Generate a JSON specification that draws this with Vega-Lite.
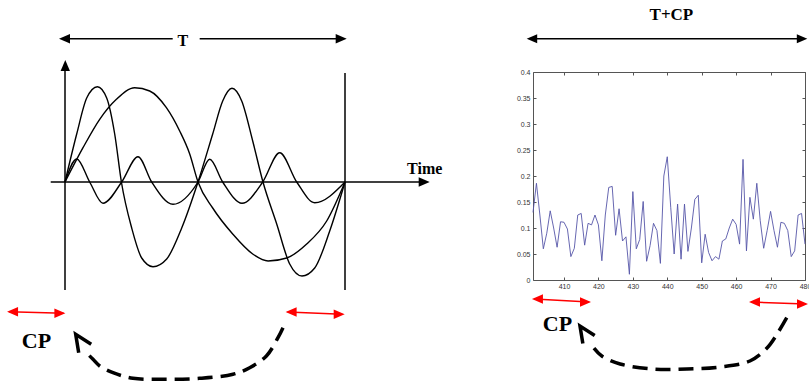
{
  "$schema": "https://vega.github.io/schema/vega-lite/v6.json",
  "padding": {"left": 6, "top": 5, "right": 0, "bottom": 0},
  "bounds": "flush",
  "spacing": 188,
  "config": {"view": {"stroke": null}},
  "datasets": {
    "waves": [
      {"wave": "A", "t": 0, "a": 0}, {"wave": "A", "t": 0.0643, "a": 0.343}, {"wave": "A", "t": 0.1239, "a": 0.627}, {"wave": "A", "t": 0.1836, "a": 0.827}, {"wave": "A", "t": 0.2489, "a": 0.943}, {"wave": "A", "t": 0.3025, "a": 0.91}, {"wave": "A", "t": 0.3621, "a": 0.743}, {"wave": "A", "t": 0.4096, "a": 0.51}, {"wave": "A", "t": 0.4454, "a": 0.28}, {"wave": "A", "t": 0.475, "a": 0}, {"wave": "A", "t": 0.5275, "a": -0.26}, {"wave": "A", "t": 0.5989, "a": -0.52}, {"wave": "A", "t": 0.6704, "a": -0.72}, {"wave": "A", "t": 0.7254, "a": -0.79}, {"wave": "A", "t": 0.7918, "a": -0.76}, {"wave": "A", "t": 0.8632, "a": -0.62}, {"wave": "A", "t": 0.9346, "a": -0.39}, {"wave": "A", "t": 1, "a": 0},
      {"wave": "B", "t": 0, "a": 0}, {"wave": "B", "t": 0.0418, "a": 0.48}, {"wave": "B", "t": 0.0775, "a": 0.84}, {"wave": "B", "t": 0.1157, "a": 0.953}, {"wave": "B", "t": 0.1489, "a": 0.84}, {"wave": "B", "t": 0.1775, "a": 0.48}, {"wave": "B", "t": 0.2014, "a": 0}, {"wave": "B", "t": 0.2382, "a": -0.46}, {"wave": "B", "t": 0.2739, "a": -0.76}, {"wave": "B", "t": 0.3143, "a": -0.847}, {"wave": "B", "t": 0.3632, "a": -0.77}, {"wave": "B", "t": 0.4168, "a": -0.46}, {"wave": "B", "t": 0.475, "a": 0}, {"wave": "B", "t": 0.5275, "a": 0.48}, {"wave": "B", "t": 0.5632, "a": 0.81}, {"wave": "B", "t": 0.5964, "a": 0.937}, {"wave": "B", "t": 0.6311, "a": 0.81}, {"wave": "B", "t": 0.6704, "a": 0.41}, {"wave": "B", "t": 0.7071, "a": 0}, {"wave": "B", "t": 0.7561, "a": -0.42}, {"wave": "B", "t": 0.8025, "a": -0.82}, {"wave": "B", "t": 0.8464, "a": -0.94}, {"wave": "B", "t": 0.8918, "a": -0.86}, {"wave": "B", "t": 0.9454, "a": -0.49}, {"wave": "B", "t": 1, "a": 0},
      {"wave": "C", "t": 0, "a": 0}, {"wave": "C", "t": 0.0418, "a": 0.23}, {"wave": "C", "t": 0.0882, "a": 0}, {"wave": "C", "t": 0.1357, "a": -0.213}, {"wave": "C", "t": 0.2025, "a": 0}, {"wave": "C", "t": 0.2607, "a": 0.253}, {"wave": "C", "t": 0.3096, "a": 0}, {"wave": "C", "t": 0.3857, "a": -0.223}, {"wave": "C", "t": 0.475, "a": 0}, {"wave": "C", "t": 0.5168, "a": 0.227}, {"wave": "C", "t": 0.5632, "a": 0}, {"wave": "C", "t": 0.6321, "a": -0.213}, {"wave": "C", "t": 0.7061, "a": 0}, {"wave": "C", "t": 0.7668, "a": 0.293}, {"wave": "C", "t": 0.8275, "a": 0}, {"wave": "C", "t": 0.8918, "a": -0.207}, {"wave": "C", "t": 1, "a": 0}
    ],
    "leftSegs": [
      {"seg": "yaxis", "t": 0, "a": -1.08}, {"seg": "yaxis", "t": 0, "a": 1.12},
      {"seg": "xaxis", "t": -0.051, "a": 0}, {"seg": "xaxis", "t": 1.27, "a": 0},
      {"seg": "end", "t": 1, "a": 1.09}, {"seg": "end", "t": 1, "a": -1.08},
      {"seg": "T1", "t": -0.01, "a": 1.433}, {"seg": "T1", "t": 0.3846, "a": 1.433},
      {"seg": "T2", "t": 0.481, "a": 1.433}, {"seg": "T2", "t": 0.995, "a": 1.433}
    ],
    "leftHeads": [
      {"t": -0.0214, "a": 1.433, "dir": "left"},
      {"t": 1.0061, "a": 1.433, "dir": "right"},
      {"t": 0.001, "a": 1.22, "dir": "up"},
      {"t": 1.3025, "a": 0, "dir": "right"}
    ],
    "leftCp": [
      {"seg": "L", "t": -0.2, "a": -1.297}, {"seg": "L", "t": -0.005, "a": -1.313},
      {"seg": "R", "t": 0.795, "a": -1.30}, {"seg": "R", "t": 0.99, "a": -1.323}
    ],
    "leftCpHeads": [
      {"t": -0.207, "a": -1.297, "dir": "left"},
      {"t": 0.0014, "a": -1.313, "dir": "right"},
      {"t": 0.788, "a": -1.30, "dir": "left"},
      {"t": 0.9989, "a": -1.323, "dir": "right"}
    ],
    "leftText": [
      {"label": "T", "t": 0.4204, "a": 1.36},
      {"label": "Time", "t": 1.2846, "a": 0.08}
    ],
    "leftCpText": [{"label": "CP", "t": -0.102, "a": -1.657}],
    "leftDash": [
      {"i": 0, "t": 0.7786, "a": -1.457}, {"i": 1, "t": 0.7607, "a": -1.557}, {"i": 2, "t": 0.7193, "a": -1.74}, {"i": 3, "t": 0.6596, "a": -1.857}, {"i": 4, "t": 0.6, "a": -1.923}, {"i": 5, "t": 0.4811, "a": -1.963}, {"i": 6, "t": 0.3621, "a": -1.973}, {"i": 7, "t": 0.2429, "a": -1.963}, {"i": 8, "t": 0.1714, "a": -1.907}, {"i": 9, "t": 0.1239, "a": -1.84}, {"i": 10, "t": 0.1, "a": -1.773}, {"i": 11, "t": 0.0821, "a": -1.723}
    ],
    "leftTip": [{"t": 0.0382, "a": -1.523}],
    "signal": [
      {"x": 401, "y": 0.13}, {"x": 402, "y": 0.186}, {"x": 403, "y": 0.125}, {"x": 404, "y": 0.06}, {"x": 405, "y": 0.09}, {"x": 406, "y": 0.133}, {"x": 407, "y": 0.10}, {"x": 408, "y": 0.063}, {"x": 409, "y": 0.112}, {"x": 410, "y": 0.111},
      {"x": 411, "y": 0.098}, {"x": 412, "y": 0.045}, {"x": 413, "y": 0.061}, {"x": 414, "y": 0.125}, {"x": 415, "y": 0.128}, {"x": 416, "y": 0.067}, {"x": 417, "y": 0.109}, {"x": 418, "y": 0.106}, {"x": 419, "y": 0.125}, {"x": 420, "y": 0.106},
      {"x": 421, "y": 0.037}, {"x": 422, "y": 0.125}, {"x": 423, "y": 0.178}, {"x": 424, "y": 0.18}, {"x": 425, "y": 0.086}, {"x": 426, "y": 0.137}, {"x": 427, "y": 0.075}, {"x": 428, "y": 0.083}, {"x": 429, "y": 0.011}, {"x": 430, "y": 0.17},
      {"x": 431, "y": 0.06}, {"x": 432, "y": 0.078}, {"x": 433, "y": 0.151}, {"x": 434, "y": 0.036}, {"x": 435, "y": 0.066}, {"x": 436, "y": 0.109}, {"x": 437, "y": 0.095}, {"x": 438, "y": 0.032}, {"x": 439, "y": 0.2}, {"x": 440, "y": 0.237},
      {"x": 441, "y": 0.14}, {"x": 442, "y": 0.05}, {"x": 443, "y": 0.146}, {"x": 444, "y": 0.04}, {"x": 445, "y": 0.146}, {"x": 446, "y": 0.055}, {"x": 447, "y": 0.1}, {"x": 448, "y": 0.155}, {"x": 449, "y": 0.163}, {"x": 450, "y": 0.033},
      {"x": 451, "y": 0.088}, {"x": 452, "y": 0.053}, {"x": 453, "y": 0.037}, {"x": 454, "y": 0.045}, {"x": 455, "y": 0.04}, {"x": 456, "y": 0.075}, {"x": 457, "y": 0.079}, {"x": 458, "y": 0.1}, {"x": 459, "y": 0.117}, {"x": 460, "y": 0.107},
      {"x": 461, "y": 0.069}, {"x": 462, "y": 0.232}, {"x": 463, "y": 0.056}, {"x": 464, "y": 0.159}, {"x": 465, "y": 0.117}, {"x": 466, "y": 0.186}, {"x": 467, "y": 0.114}, {"x": 468, "y": 0.061}, {"x": 469, "y": 0.095}, {"x": 470, "y": 0.132},
      {"x": 471, "y": 0.095}, {"x": 472, "y": 0.063}, {"x": 473, "y": 0.111}, {"x": 474, "y": 0.109}, {"x": 475, "y": 0.095}, {"x": 476, "y": 0.045}, {"x": 477, "y": 0.056}, {"x": 478, "y": 0.125}, {"x": 479, "y": 0.128}, {"x": 480, "y": 0.069}
    ],
    "tcp": [{"x": 400.5, "y": 0.464}, {"x": 479.5, "y": 0.464}],
    "tcpHeads": [{"x": 399.17, "y": 0.464, "dir": "left"}, {"x": 480.67, "y": 0.464, "dir": "right"}],
    "tcpText": [{"label": "T+CP", "x": 441.2, "y": 0.4994}],
    "rightCp": [
      {"seg": "L", "x": 401.4, "y": -0.0365}, {"x": 417.3, "y": -0.0423, "seg": "L"},
      {"seg": "R", "x": 464.4, "y": -0.0423}, {"x": 480.2, "y": -0.0462, "seg": "R"}
    ],
    "rightCpHeads": [
      {"x": 400.7, "y": -0.0365, "dir": "left"},
      {"x": 417.85, "y": -0.0423, "dir": "right"},
      {"x": 463.73, "y": -0.0423, "dir": "left"},
      {"x": 480.87, "y": -0.0462, "dir": "right"}
    ],
    "rightCpText": [{"label": "CP", "x": 408.1, "y": -0.098}],
    "rightDash": [
      {"i": 0, "x": 474.7, "y": -0.0725}, {"i": 1, "x": 471.9, "y": -0.1038}, {"i": 2, "x": 468.96, "y": -0.1308}, {"i": 3, "x": 464.0, "y": -0.1558}, {"i": 4, "x": 455.3, "y": -0.1673}, {"i": 5, "x": 445.7, "y": -0.1712}, {"i": 6, "x": 435.85, "y": -0.1712}, {"i": 7, "x": 426.3, "y": -0.1615}, {"i": 8, "x": 421.0, "y": -0.1462}, {"i": 9, "x": 418.7, "y": -0.131}
    ],
    "rightTip": [{"x": 414.65, "y": -0.0885}]
  },
  "hconcat": [
    {
      "width": 280,
      "height": 208,
      "encoding": {
        "x": {"field": "t", "type": "quantitative", "scale": {"domain": [0, 1], "nice": false, "zero": false}, "axis": null},
        "y": {"field": "a", "type": "quantitative", "scale": {"domain": [-0.98, 1.1], "nice": false, "zero": false}, "axis": null}
      },
      "layer": [
        {
          "data": {"name": "waves"},
          "mark": {"type": "line", "interpolate": "monotone", "color": "black", "strokeWidth": 1.4, "clip": false},
          "encoding": {"detail": {"field": "wave", "type": "nominal"}}
        },
        {
          "data": {"name": "leftSegs"},
          "mark": {"type": "line", "color": "black", "strokeWidth": 1.5, "clip": false},
          "encoding": {"detail": {"field": "seg", "type": "nominal"}}
        },
        {
          "data": {"name": "leftHeads"},
          "mark": {"type": "point", "filled": true, "opacity": 1, "color": "black", "size": 121, "clip": false},
          "encoding": {"shape": {"field": "dir", "type": "nominal", "scale": {"domain": ["left", "right", "up"], "range": ["M0,0L2,-0.85L2,0.85Z", "M0,0L-2,-0.85L-2,0.85Z", "M0,0L-0.85,2L0.85,2Z"]}, "legend": null}}
        },
        {
          "data": {"name": "leftCp"},
          "mark": {"type": "line", "color": "#ff0000", "strokeWidth": 1.5, "clip": false},
          "encoding": {"detail": {"field": "seg", "type": "nominal"}}
        },
        {
          "data": {"name": "leftCpHeads"},
          "mark": {"type": "point", "filled": true, "opacity": 1, "color": "#ff0000", "size": 121, "clip": false},
          "encoding": {"shape": {"field": "dir", "type": "nominal", "scale": {"domain": ["left", "right", "up"], "range": ["M0,0L2,-0.85L2,0.85Z", "M0,0L-2,-0.85L-2,0.85Z", "M0,0L-0.85,2L0.85,2Z"]}, "legend": null}}
        },
        {
          "data": {"name": "leftText"},
          "mark": {"type": "text", "font": "Liberation Serif", "fontWeight": "bold", "fontSize": 16, "align": "center", "baseline": "alphabetic", "color": "black", "clip": false},
          "encoding": {"text": {"field": "label", "type": "nominal"}}
        },
        {
          "data": {"name": "leftCpText"},
          "mark": {"type": "text", "font": "Liberation Serif", "fontWeight": "bold", "fontSize": 22, "align": "center", "baseline": "alphabetic", "color": "black", "clip": false},
          "encoding": {"text": {"field": "label", "type": "nominal"}}
        },
        {
          "data": {"name": "leftDash"},
          "mark": {"type": "line", "interpolate": "catmull-rom", "color": "black", "strokeWidth": 3.5, "strokeDash": [15, 8], "clip": false},
          "encoding": {"order": {"field": "i", "type": "quantitative"}}
        },
        {
          "data": {"name": "leftTip"},
          "mark": {"type": "point", "shape": "M3.1,2L0,0L0.6,3.7", "filled": false, "opacity": 1, "color": "black", "strokeWidth": 3.5, "size": 100, "clip": false}
        }
      ]
    },
    {
      "width": 272,
      "height": 208,
      "view": {"stroke": "#555", "strokeWidth": 1},
      "resolve": {"axis": {"x": "independent", "y": "independent"}},
      "encoding": {
        "x": {"field": "x", "type": "quantitative", "scale": {"domain": [401, 480], "nice": false, "zero": false}, "axis": null},
        "y": {"field": "y", "type": "quantitative", "scale": {"domain": [0, 0.4], "nice": false, "zero": false}, "axis": null}
      },
      "layer": [
        {
          "data": {"name": "signal"},
          "mark": {"type": "line", "color": "#5656a8", "strokeWidth": 0.9, "clip": false},
          "encoding": {
            "x": {"field": "x", "type": "quantitative", "scale": {"domain": [401, 480], "nice": false, "zero": false},
              "axis": {"orient": "bottom", "values": [410, 420, 430, 440, 450, 460, 470, 480], "format": "d", "title": null, "grid": false, "domain": false, "tickSize": -3, "tickColor": "#555", "labelFont": "Liberation Sans", "labelFontSize": 7, "labelColor": "#333", "labelPadding": 5, "labelFlush": false, "labelOverlap": false}},
            "y": {"field": "y", "type": "quantitative", "scale": {"domain": [0, 0.4], "nice": false, "zero": false},
              "axis": {"orient": "left", "values": [0, 0.05, 0.1, 0.15, 0.2, 0.25, 0.3, 0.35, 0.4], "format": "~g", "title": null, "grid": false, "domain": false, "tickSize": -3, "tickColor": "#555", "labelFont": "Liberation Sans", "labelFontSize": 7, "labelColor": "#333", "labelPadding": 6, "labelOverlap": false}}
          }
        },
        {
          "data": {"name": "tcp"},
          "mark": {"type": "line", "color": "black", "strokeWidth": 1.5, "clip": false},
          "encoding": {
            "x": {"field": "x", "type": "quantitative", "scale": {"domain": [401, 480], "nice": false, "zero": false},
              "axis": {"orient": "top", "values": [410, 420, 430, 440, 450, 460, 470, 480], "labels": false, "title": null, "grid": false, "domain": false, "tickSize": -3, "tickColor": "#555"}},
            "y": {"field": "y", "type": "quantitative", "scale": {"domain": [0, 0.4], "nice": false, "zero": false},
              "axis": {"orient": "right", "values": [0, 0.05, 0.1, 0.15, 0.2, 0.25, 0.3, 0.35, 0.4], "labels": false, "title": null, "grid": false, "domain": false, "tickSize": -3, "tickColor": "#555"}}
          }
        },
        {
          "data": {"name": "tcpHeads"},
          "mark": {"type": "point", "filled": true, "opacity": 1, "color": "black", "size": 110, "clip": false},
          "encoding": {"shape": {"field": "dir", "type": "nominal", "scale": {"domain": ["left", "right", "up"], "range": ["M0,0L2,-0.85L2,0.85Z", "M0,0L-2,-0.85L-2,0.85Z", "M0,0L-0.85,2L0.85,2Z"]}, "legend": null}}
        },
        {
          "data": {"name": "tcpText"},
          "mark": {"type": "text", "font": "Liberation Serif", "fontWeight": "bold", "fontSize": 17, "align": "center", "baseline": "alphabetic", "color": "black", "clip": false},
          "encoding": {"text": {"field": "label", "type": "nominal"}}
        },
        {
          "data": {"name": "rightCp"},
          "mark": {"type": "line", "color": "#ff0000", "strokeWidth": 1.5, "clip": false},
          "encoding": {"detail": {"field": "seg", "type": "nominal"}}
        },
        {
          "data": {"name": "rightCpHeads"},
          "mark": {"type": "point", "filled": true, "opacity": 1, "color": "#ff0000", "size": 121, "clip": false},
          "encoding": {"shape": {"field": "dir", "type": "nominal", "scale": {"domain": ["left", "right", "up"], "range": ["M0,0L2,-0.85L2,0.85Z", "M0,0L-2,-0.85L-2,0.85Z", "M0,0L-0.85,2L0.85,2Z"]}, "legend": null}}
        },
        {
          "data": {"name": "rightCpText"},
          "mark": {"type": "text", "font": "Liberation Serif", "fontWeight": "bold", "fontSize": 22, "align": "center", "baseline": "alphabetic", "color": "black", "clip": false},
          "encoding": {"text": {"field": "label", "type": "nominal"}}
        },
        {
          "data": {"name": "rightDash"},
          "mark": {"type": "line", "interpolate": "catmull-rom", "color": "black", "strokeWidth": 3.5, "strokeDash": [15, 8], "clip": false},
          "encoding": {"order": {"field": "i", "type": "quantitative"}}
        },
        {
          "data": {"name": "rightTip"},
          "mark": {"type": "point", "shape": "M3.1,2L0,0L0.6,3.7", "filled": false, "opacity": 1, "color": "black", "strokeWidth": 3.5, "size": 90, "clip": false}
        }
      ]
    }
  ]
}
